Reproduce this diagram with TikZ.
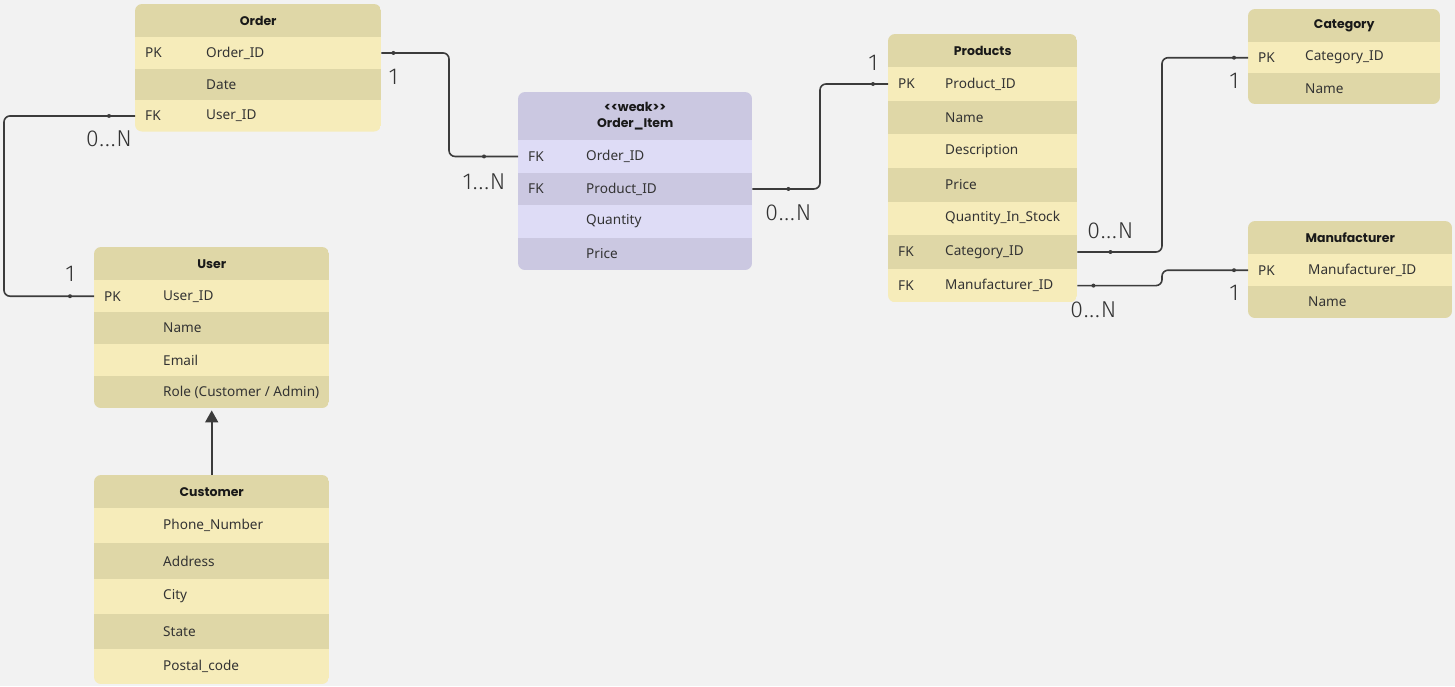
\documentclass[tikz,border=0pt]{standalone}
\usepackage{fontspec}
\setmainfont{Noto Sans}
\newfontfamily\titlefont{Poppins}
\newfontfamily\multfont{Fira Sans Light}[LetterSpace=4]
\usetikzlibrary{arrows.meta,calc,positioning}

\definecolor{canvas}{HTML}{F2F2F2}
\definecolor{ydark}{HTML}{DFD7A7}
\definecolor{ylight}{HTML}{F6ECBA}
\definecolor{pdark}{HTML}{CBC8E1}
\definecolor{plight}{HTML}{DEDCF6}
\definecolor{ink}{HTML}{333333}
\definecolor{wire}{HTML}{3C3C3C}

\tikzset{
  hdr/.style={inner sep=0pt, anchor=north west, align=center, text=black!90,
    font=\titlefont\bfseries\fontsize{12.5}{16}\selectfont},
  rowbox/.style={inner sep=0pt, anchor=north west},
  keytxt/.style={anchor=west, inner sep=0pt, text=ink, font=\fontsize{13.6}{15}\selectfont},
  attrtxt/.style={keytxt},
  link/.style={draw=wire, line width=1.6pt, rounded corners=6pt},
  dot/.style={circle, fill=wire, inner sep=0pt, minimum size=4pt},
  mult/.style={text=ink, font=\multfont\fontsize{23}{26}\selectfont},
}

\def\tabdark{ydark}
\def\tablight{ylight}

% #1 id, #2 x, #3 y, #4 width, #5 header height, #6 row height,
% #7 name column, #8 title, #9 rows (key/attribute)
\newcommand{\ertable}[9]{%
  \foreach \k/\a [count=\n] in {#9} {\xdef\nrows{\n}}
  \begin{scope}
    \clip[rounded corners=7pt] (#2,#3) rectangle ({#2+#4},{#3+#5+\nrows*#6});
    \node[hdr, fill=\tabdark, minimum width=#4pt, minimum height=#5pt] (#1) at (#2,#3) {#8};
    \foreach \k/\a [count=\n] in {#9} {
      \ifodd\n\relax \def\shade{\tablight}\else \def\shade{\tabdark}\fi
      \node[rowbox, fill=\shade, minimum width=#4pt, minimum height=#6pt] (#1-\n) at (#2,{#3+#5+(\n-1)*#6}) {};
      \node[keytxt] (#1-\n-k) at ([xshift=10pt]#1-\n.west) {\k};
      \node[attrtxt] (#1-\n-a) at ([xshift=#7pt]#1-\n.west) {\a};
    }
  \end{scope}
}

\begin{document}
\begin{tikzpicture}[x=1pt, y=-1pt]
\fill[canvas] (0,0) rectangle (1455,686);
\useasboundingbox (0,0) rectangle (1455,686);

% tables
\ertable{ord}{135}{4}{246}{33}{31.5}{71}{Order}{PK/Order\_ID, /Date, FK/User\_ID}
\ertable{usr}{94}{247}{235}{33}{32}{69}{User}{PK/User\_ID, /Name, /Email, /{Role (Customer / Admin)}}
\ertable{cus}{94}{475}{235}{33}{35.2}{69}{Customer}{/Phone\_Number, /Address, /City, /State, /Postal\_code}
\ertable{prd}{888}{34}{189}{33}{33.6}{57}{Products}{PK/Product\_ID, /Name, /Description, /Price, /Quantity\_In\_Stock, FK/Category\_ID, FK/Manufacturer\_ID}
\ertable{cat}{1248}{9}{192}{33}{31}{57}{Category}{PK/Category\_ID, /Name}
\ertable{man}{1248}{221}{204}{33}{32}{60}{Manufacturer}{PK/Manufacturer\_ID, /Name}
\def\tabdark{pdark}
\def\tablight{plight}
\ertable{oi}{518}{92}{234}{48}{32.5}{68}{{<}{<}weak{>}{>}\\Order\_Item}{FK/Order\_ID, FK/Product\_ID, /Quantity, /Price}

% bend points
\coordinate (b1) at ([xshift=-90pt]usr-1.west);
\coordinate (b2) at ([xshift=-69pt]oi-1.west);
\coordinate (b3) at ([xshift=-68pt]prd-1.west);
\coordinate (b4) at ([xshift=-86pt]cat-1.west);
\coordinate (b5) at ([xshift=-86pt]man-1.west);

% relations
\draw[link] (ord-3.west) -- (b1 |- ord-3.west) |- (usr-1.west);
\draw[link] (ord-1.east) -- (b2 |- ord-1.east) -- (b2) -- (oi-1.west);
\draw[link] (oi-2.east) -- (b3 |- oi-2.east) -- (b3) -- (prd-1.west);
\draw[link] (prd-6.east) -- (b4 |- prd-6.east) -- (b4) -- (cat-1.west);
\draw[link] (prd-7.east) -- (b5 |- prd-7.east) -- (b5) -- (man-1.west);

% inheritance
\draw[link, -{Triangle[length=12pt,width=13pt]}] (cus.north) -- ([yshift=-2pt]usr-4.south);

% end dots and multiplicities
\node[dot] (d1) at ([xshift=-26pt]ord-3.west) {};
\node[mult] (m1) at ([yshift=-23pt]d1) {0...N};
\node[dot] (d2) at ([xshift=-24pt]usr-1.west) {};
\node[mult] (m2) at ([yshift=22pt]d2) {1};
\node[dot] (d3) at ([xshift=12pt]ord-1.east) {};
\node[mult] (m3) at ([yshift=-24pt]d3) {1};
\node[dot] (d4) at ([xshift=-34pt]oi-1.west) {};
\node[mult] (m4) at ([yshift=-25pt]d4) {1...N};
\node[dot] (d5) at ([xshift=36pt]oi-2.east) {};
\node[mult] (m5) at ([yshift=-24pt]d5) {0...N};
\node[dot] (d6) at ([xshift=-15pt]prd-1.west) {};
\node[mult] (m6) at ([yshift=21pt]d6) {1};
\node[dot] (d7) at ([xshift=33pt]prd-6.east) {};
\node[mult] (m7) at ([yshift=21pt]d7) {0...N};
\node[dot] (d8) at ([xshift=-14pt]cat-1.west) {};
\node[mult] (m8) at ([yshift=-23pt]d8) {1};
\node[dot] (d9) at ([xshift=16pt]prd-7.east) {};
\node[mult] (m9) at ([yshift=-24pt]d9) {0...N};
\node[dot] (d10) at ([xshift=-14pt]man-1.west) {};
\node[mult] (m10) at ([yshift=-23pt]d10) {1};
\end{tikzpicture}
\end{document}
